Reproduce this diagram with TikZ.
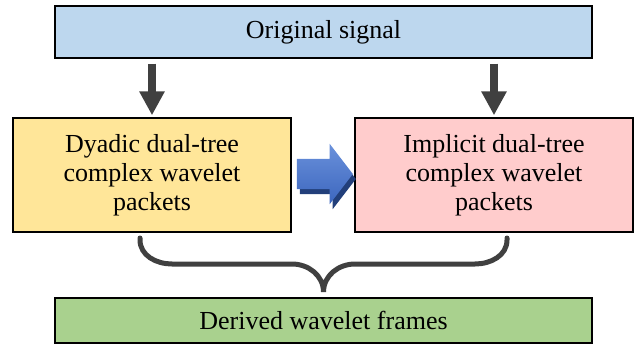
\documentclass[tikz,border=0pt]{standalone}
\usepackage{fontspec}
\setmainfont{Liberation Serif}
\usetikzlibrary{positioning, arrows.meta, shapes.arrows, shadows}
\definecolor{sigblue}{HTML}{BDD7EE}
\definecolor{dyyellow}{HTML}{FFE699}
\definecolor{impink}{HTML}{FFCCCC}
\definecolor{frgreen}{HTML}{A9D18E}
\definecolor{darkgrey}{HTML}{404040}
\definecolor{arrowtop}{HTML}{6A91DB}
\definecolor{arrowbot}{HTML}{3C66BE}
\definecolor{arrowshade}{HTML}{223F7A}

\begin{document}
\begin{tikzpicture}[x=1pt, y=-1pt,
  box/.style = {draw, line width=1.4pt, inner sep=0pt, align=center, font=\fontsize{26}{29}\selectfont},
  down/.style = {draw=darkgrey, line width=8pt, -{Triangle[width=24pt, length=24pt]}, darkgrey},
  brace/.style = {draw=darkgrey, line width=5pt, line cap=round}]
  \useasboundingbox (0,0) rectangle (639,347);
  \node[box, fill=sigblue, minimum width=537pt, minimum height=52pt] (sig) at (323.5,32) {Original signal};
  \node[box, fill=dyyellow, minimum width=278pt, minimum height=114pt] (dy) at (152,175) {Dyadic dual-tree\\complex wavelet\\packets};
  \node[box, fill=impink, minimum width=278pt, minimum height=114pt] (im) at (494,175) {Implicit dual-tree\\complex wavelet\\packets};
  \node[box, fill=frgreen, minimum width=537pt, minimum height=45pt] (fr) at (323.5,320.5) {Derived wavelet frames};
  \draw[down, shorten <=5pt, shorten >=2pt] (sig.south -| dy.north) -- (dy.north);
  \draw[down, shorten <=5pt, shorten >=2pt] (sig.south -| im.north) -- (im.north);
  \node[single arrow, inner xsep=0pt, inner ysep=15pt, minimum height=56pt, single arrow head extend=15pt, single arrow tip angle=105,
    top color=arrowtop, bottom color=arrowbot,
    drop shadow={shadow xshift=3pt, shadow yshift=-5pt, fill=arrowshade, opacity=1}] (go) at (319,174) {};
  \coordinate (bl) at (140,238);
  \coordinate (br) at (507,238);
  \coordinate (bt) at (323.5,292);
  \draw[brace] (bl) -- ++(0,2) to[out=-90, in=180] (172,264) -- (292,264) to[out=0, in=90] (bt)
    to[out=90, in=180] (355,264) -- (475,264) to[out=0, in=-90] (507,240) -- (br);
\end{tikzpicture}
\end{document}
